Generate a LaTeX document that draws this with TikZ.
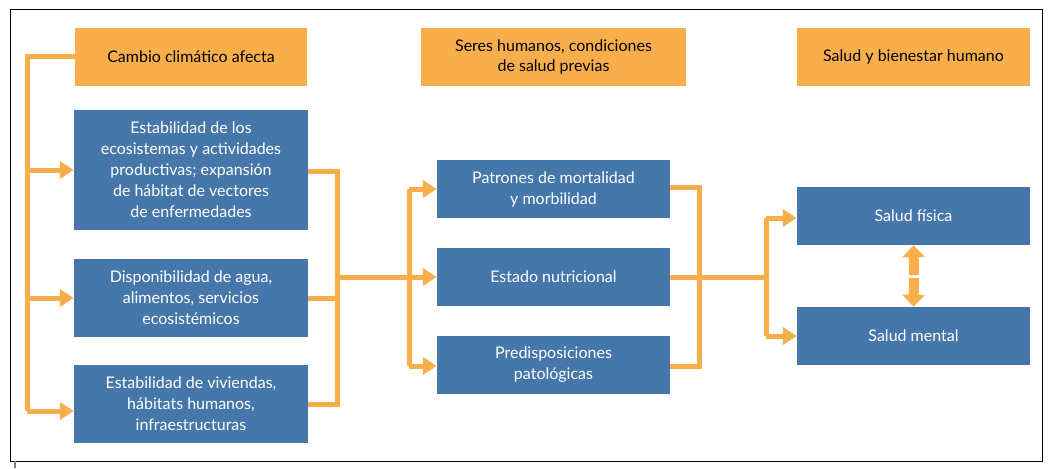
\documentclass[tikz,border=0pt]{standalone}
\usepackage{fontspec}
\setmainfont{Lato}
\usetikzlibrary{arrows.meta}
\definecolor{orng}{HTML}{F9AE4C}
\definecolor{blu}{HTML}{4677AA}
\begin{document}
\begin{tikzpicture}[x=1pt,y=-1pt,
  hdr/.style={fill=orng,inner sep=0pt,align=center,font=\fontsize{16}{20}\selectfont,text=black},
  bx/.style={fill=blu,inner sep=0pt,align=center,font=\fontsize{16}{21}\selectfont,text=white},
  ln/.style={draw=orng,line width=5pt},
  ar/.style={ln,-{Triangle[length=14pt,width=17pt]}}]
\useasboundingbox (0,0) rectangle (1064,468);
\draw[line width=1pt] (10,10) rectangle (1042,461);
\draw[gray,line width=1.5pt] (15,461) -- (15,468);
\node[hdr,minimum width=232pt,minimum height=58pt] (h1) at (191,57) {Cambio climático afecta};
\node[hdr,minimum width=265pt,minimum height=58pt] (h2) at (553.5,57) {Seres humanos, condiciones\\de salud previas};
\node[hdr,minimum width=233pt,minimum height=58pt] (h3) at (913.5,57) {Salud y bienestar humano};
\node[bx,minimum width=234pt,minimum height=120pt] (b1) at (191,170) {Estabilidad de los\\ecosistemas y actividades\\productivas; expansión\\de hábitat de vectores\\de enfermedades};
\node[bx,minimum width=234pt,minimum height=78pt] (b2) at (191,298) {Disponibilidad de agua,\\alimentos, servicios\\ecosistémicos};
\node[bx,minimum width=234pt,minimum height=78pt] (b3) at (191,404) {Estabilidad de viviendas,\\hábitats humanos,\\infraestructuras};
\node[bx,minimum width=233pt,minimum height=58pt] (p1) at (553.5,189) {Patrones de mortalidad\\y morbilidad};
\node[bx,minimum width=233pt,minimum height=58pt] (p2) at (553.5,277) {Estado nutricional};
\node[bx,minimum width=233pt,minimum height=58pt] (p3) at (553.5,365) {Predisposiciones\\patológicas};
\node[bx,minimum width=233pt,minimum height=58pt] (s1) at (913.5,216) {Salud física};
\node[bx,minimum width=233pt,minimum height=58pt] (s2) at (913.5,336) {Salud mental};
% left bracket
\coordinate (lt) at (27,57);
\draw[ln] (h1.west) -- (lt) -- (27,411);
\draw[ar] (27,170) -- (b1.west);
\draw[ar] (27,298) -- (b2.west);
\draw[ar] (27,411) -- (b3.west|-0,411);
% right of blue boxes
\draw[ln] (b1.east|-0,171) -- (337,171) -- (337,404) -- (b3.east);
\draw[ln] (b2.east) -- (337,298);
\draw[ar] (337,277) -- (p2.west);
\draw[ln] (409,189) -- (409,366);
\draw[ar] (409,189) -- (p1.west);
\draw[ar] (409,366) -- (p3.west|-0,366);
% right of middle
\draw[ln] (p1.east|-0,187) -- (699,187) -- (699,366) -- (p3.east|-0,366);
\draw[ln] (p2.east) -- (766,277);
\draw[ln] (766,218) -- (766,336);
\draw[ar] (766,218) -- (s1.west|-0,218);
\draw[ar] (766,336) -- (s2.west|-0,336);
% double arrow
\draw[draw=orng,line width=10pt,-{Triangle[length=12pt,width=22pt]}] (914,275) -- (s1.south);
\draw[draw=orng,line width=10pt,-{Triangle[length=12pt,width=22pt]}] (914,278) -- (s2.north);
\end{tikzpicture}
\end{document}
